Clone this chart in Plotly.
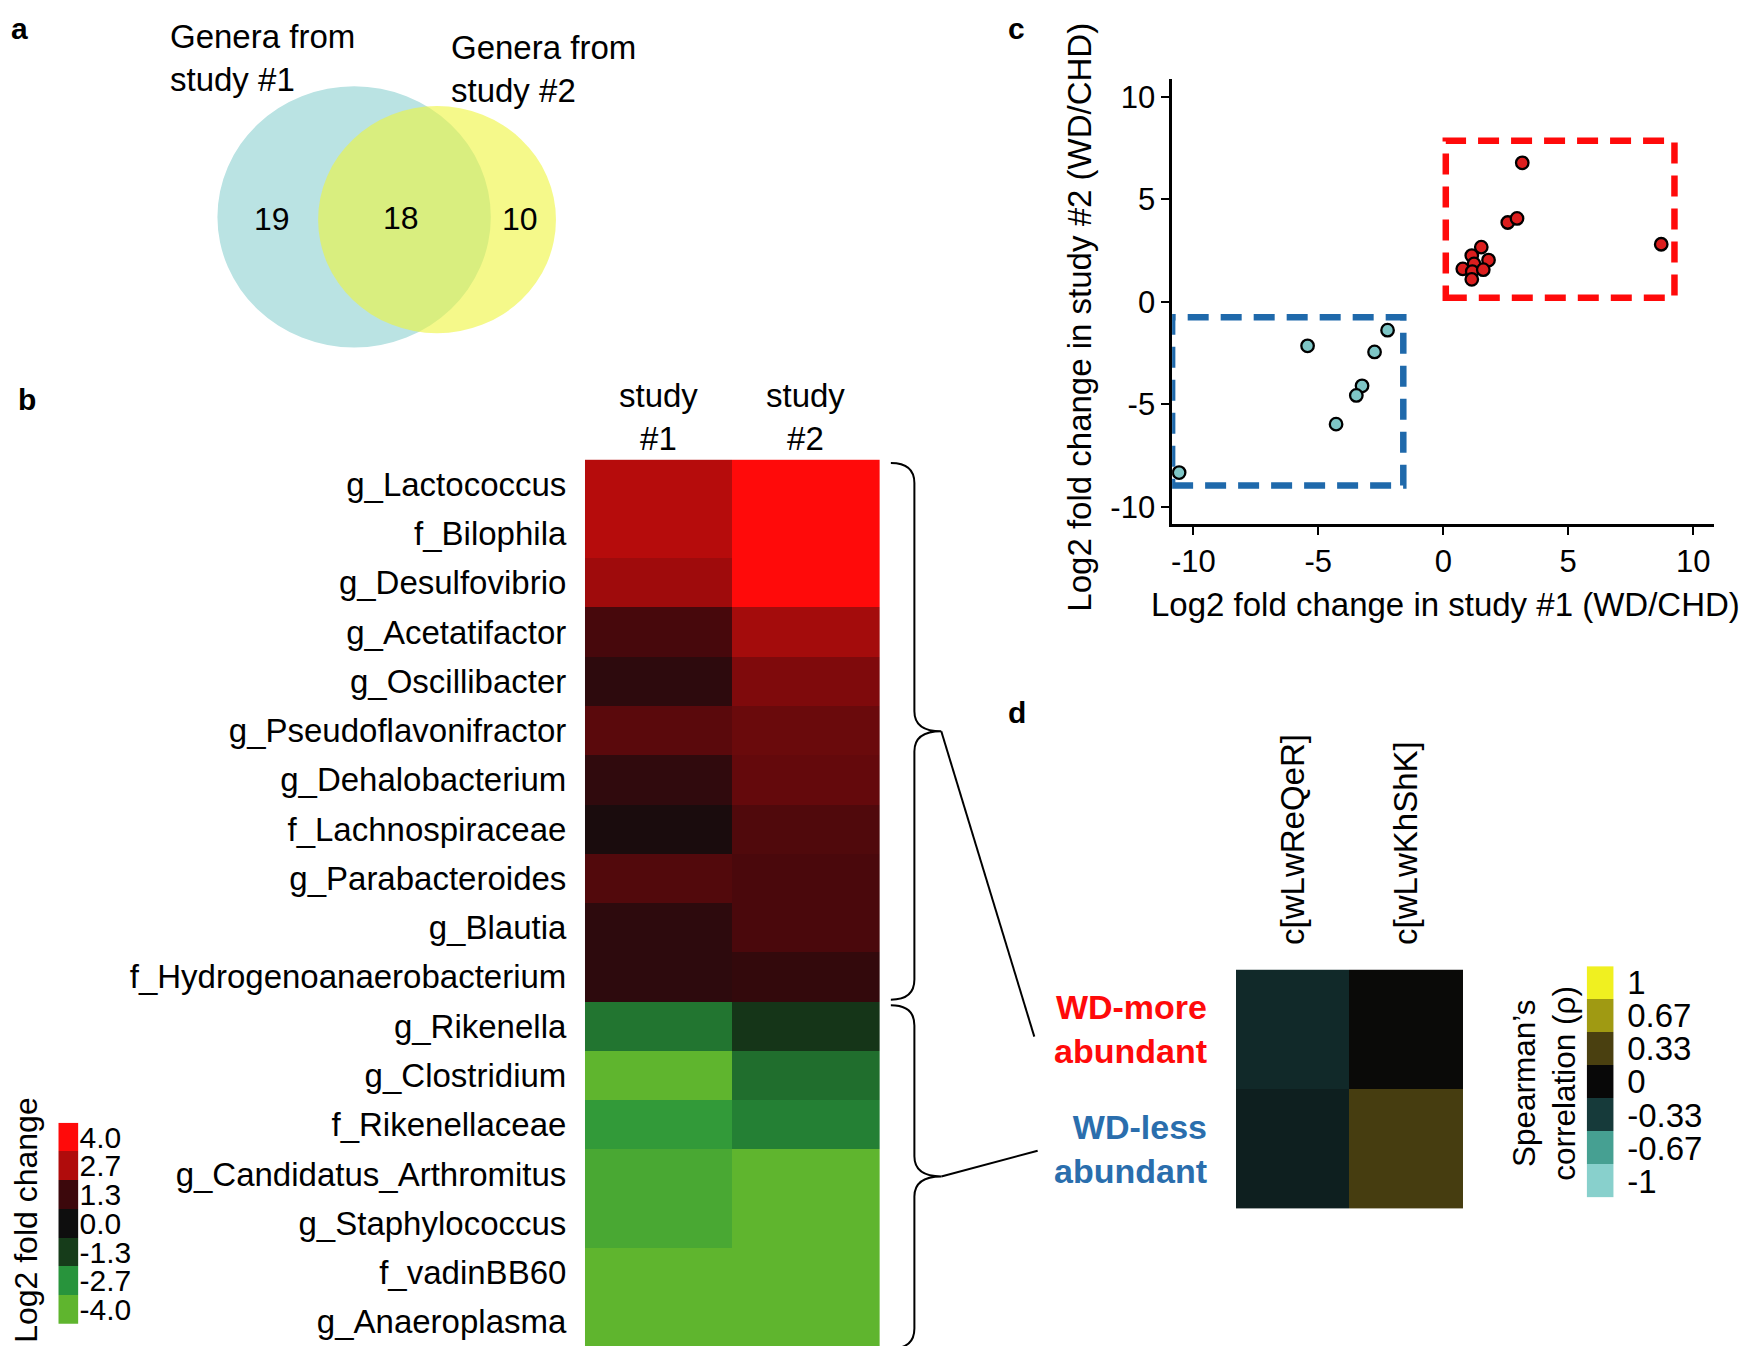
import plotly.graph_objects as go

# ---------------- data ----------------
venn_only1 = 19
venn_both = 18
venn_only2 = 10
venn_titles = ["Genera from<br>study #1", "Genera from<br>study #2"]

genera = ["g_Lactococcus", "f_Bilophila", "g_Desulfovibrio", "g_Acetatifactor",
          "g_Oscillibacter", "g_Pseudoflavonifractor", "g_Dehalobacterium",
          "f_Lachnospiraceae", "g_Parabacteroides", "g_Blautia",
          "f_Hydrogenoanaerobacterium", "g_Rikenella", "g_Clostridium",
          "f_Rikenellaceae", "g_Candidatus_Arthromitus", "g_Staphylococcus",
          "f_vadinBB60", "g_Anaeroplasma"]
studies = ["study<br>#1", "study<br>#2"]
lfc_study1 = [2.8, 2.8, 2.5, 1.43, 0.88, 1.66, 0.96, 0.34, 1.57, 0.88, 0.88,
              -2.21, -4.0, -2.94, -3.49, -3.49, -4.0, -4.0]
lfc_study2 = [4.0, 4.0, 4.0, 2.55, 2.11, 1.86, 1.78, 1.54, 1.47, 1.47, 1.05,
              -1.1, -2.1, -2.38, -4.0, -4.0, -4.0, -4.0]
lfc_legend_vals = [4.0, 2.7, 1.3, 0.0, -1.3, -2.7, -4.0]
lfc_legend_text = ["4.0", "2.7", "1.3", "0.0", "-1.3", "-2.7", "-4.0"]

up_x = [3.16, 2.58, 2.95, 8.72, 1.52, 1.14, 1.81, 1.23, 0.78, 1.16, 1.60, 1.14]
up_y = [6.78, 3.87, 4.07, 2.81, 2.67, 2.26, 2.04, 1.85, 1.61, 1.48, 1.57, 1.10]
down_x = [-2.23, -5.43, -2.75, -3.25, -3.48, -4.29, -10.57]
down_y = [-1.38, -2.14, -2.44, -4.09, -4.56, -5.96, -8.32]
up_box_x = [0.1, 9.25]
up_box_y = [0.2, 7.85]
down_box_x = [-10.85, -1.6]
down_box_y = [-8.95, -0.75]
axis_ticks = [-10, -5, 0, 5, 10]
axis_tick_text = ["-10", "-5", "0", "5", "10"]

peptides = ["c[wLwReQeR]", "c[wLwKhShK]"]
groups = ["WD-more<br>abundant", "WD-less<br>abundant"]
group_colors = ["#ff0a0a", "#2a6ead"]
rho = [[-0.22, 0.01],
       [-0.15, 0.31]]
rho_legend_vals = [1, 0.67, 0.33, 0, -0.33, -0.67, -1]
rho_legend_text = ["1", "0.67", "0.33", "0", "-0.33", "-0.67", "-1"]

# ---------------- layout helpers ----------------
W, H = 1758, 1346
DW, DH = 1568.0, 1200.0   # drawing grid units (same aspect as the page)


def fx(x):
    return x / DW


def fy(y):
    return 1 - y / DH


FONT = "Liberation Sans, Arial, sans-serif"
FS = 33

cs_lfc = [[0.0, "rgb(95,181,46)"], [0.1625, "rgb(40,148,60)"],
          [0.3375, "rgb(22,60,26)"], [0.5, "rgb(14,14,14)"],
          [0.6625, "rgb(60,8,12)"], [0.8375, "rgb(176,12,12)"],
          [1.0, "rgb(255,10,10)"]]
cs_rho = [[0.0, "rgb(136,208,204)"], [0.165, "rgb(70,160,146)"],
          [0.335, "rgb(22,58,58)"], [0.5, "rgb(8,8,8)"],
          [0.665, "rgb(74,64,16)"], [0.835, "rgb(160,154,18)"],
          [1.0, "rgb(240,240,32)"]]

fig = go.Figure()

# ---- panel b heatmap ----
fig.add_trace(go.Heatmap(
    z=[[a, b] for a, b in zip(lfc_study1, lfc_study2)],
    x=[0, 1], y=genera, zmin=-4, zmax=4, colorscale=cs_lfc,
    showscale=False, xaxis="x2", yaxis="y2"))

# ---- panel b legend ----
fig.add_trace(go.Heatmap(
    z=[[v] for v in lfc_legend_vals], x=[0], y=list(range(len(lfc_legend_vals))),
    zmin=-4, zmax=4, colorscale=cs_lfc, showscale=False,
    xaxis="x5", yaxis="y5"))

# ---- panel c scatter ----
fig.add_trace(go.Scatter(
    x=up_x, y=up_y, mode="markers",
    marker=dict(size=12.5, color="#dc1e1e", line=dict(color="black", width=2.3)),
    xaxis="x3", yaxis="y3", showlegend=False))
fig.add_trace(go.Scatter(
    x=down_x, y=down_y, mode="markers",
    marker=dict(size=12.5, color="#7ec6c6", line=dict(color="black", width=2.3)),
    xaxis="x3", yaxis="y3", showlegend=False))

# ---- panel d heatmap ----
fig.add_trace(go.Heatmap(
    z=rho, x=peptides, y=[0, 1], zmin=-1, zmax=1, colorscale=cs_rho,
    showscale=False, xaxis="x4", yaxis="y4"))

# ---- panel d legend ----
fig.add_trace(go.Heatmap(
    z=[[v] for v in rho_legend_vals], x=[0], y=list(range(len(rho_legend_vals))),
    zmin=-1, zmax=1, colorscale=cs_rho, showscale=False,
    xaxis="x7", yaxis="y7"))

hidden = dict(visible=False, showgrid=False, zeroline=False, fixedrange=True)
sc_axis = dict(range=[-10.85, 10.85], tickvals=axis_ticks, ticktext=axis_tick_text,
               ticks="outside", ticklen=8, tickwidth=2, tickcolor="black",
               showline=True, linewidth=2.5, linecolor="black",
               showgrid=False, zeroline=False, tickfont=dict(size=31))

layout = dict(
    width=W, height=H, autosize=False,
    margin=dict(l=0, r=0, t=0, b=0),
    paper_bgcolor="white", plot_bgcolor="rgba(0,0,0,0)",
    font=dict(family=FONT, size=FS, color="black"),
    showlegend=False,
    # overlay drawing grid
    xaxis6=dict(domain=[0, 1], range=[0, DW], anchor="y6", **hidden),
    yaxis6=dict(domain=[0, 1], range=[DH, 0], anchor="x6", **hidden),
    # panel b heatmap
    xaxis2=dict(domain=[fx(514), fx(777)], anchor="y2", range=[-0.5, 1.5],
                showticklabels=False, showgrid=False, zeroline=False, ticks=""),
    yaxis2=dict(domain=[fy(1195), fy(402)], anchor="x2", autorange="reversed",
                showgrid=False, zeroline=False, ticks="outside", ticklen=11,
                tickcolor="rgba(0,0,0,0)", tickfont=dict(size=FS)),
    # panel b legend
    xaxis5=dict(domain=[fx(44), fx(62)], anchor="y5", **hidden),
    yaxis5=dict(domain=[fy(1175), fy(995)], anchor="x5", autorange="reversed",
                side="right", showgrid=False, zeroline=False, ticks="",
                tickvals=list(range(len(lfc_legend_vals))),
                ticktext=lfc_legend_text, tickfont=dict(size=30)),
    # panel c scatter
    xaxis3=dict(domain=[fx(1038), fx(1522)], anchor="y3", **sc_axis),
    yaxis3=dict(domain=[fy(460), fy(62)], anchor="x3", **sc_axis),
    # panel d heatmap
    xaxis4=dict(domain=[fx(1095), fx(1298)], anchor="y4", side="top",
                tickangle=-90, showgrid=False, zeroline=False, ticks="outside",
                ticklen=17, tickcolor="rgba(0,0,0,0)", tickfont=dict(size=FS)),
    yaxis4=dict(domain=[fy(1072), fy(858)], anchor="x4", autorange="reversed",
                showticklabels=False, showgrid=False, zeroline=False, ticks=""),
    # panel d legend
    xaxis7=dict(domain=[fx(1408), fx(1432)], anchor="y7", **hidden),
    yaxis7=dict(domain=[fy(1062), fy(855)], anchor="x7", autorange="reversed",
                side="right", showgrid=False, zeroline=False, ticks="outside",
                ticklen=6, tickcolor="rgba(0,0,0,0)",
                tickvals=list(range(len(rho_legend_vals))),
                ticktext=rho_legend_text, tickfont=dict(size=33)),
)
fig.update_layout(**layout)

shapes = []
ann = []


def A(x, y, text, **kw):
    d = dict(x=x, y=y, xref="x6", yref="y6", text=text, showarrow=False,
             xanchor="center", yanchor="middle",
             font=dict(size=kw.pop("size", FS), color=kw.pop("color", "black"),
                       family=FONT))
    d.update(kw)
    ann.append(d)


# ---- panel letters ----
A(0, 0, "<b>a</b>", size=30, xanchor="left", yanchor="top")
A(890, 0, "<b>c</b>", size=30, xanchor="left", yanchor="top")
A(6, 348, "<b>b</b>", size=30, xanchor="left")
A(890, 628, "<b>d</b>", size=30, xanchor="left")

# ---- panel a: Venn (areas proportional to set sizes) ----
n1 = venn_only1 + venn_both
n2 = venn_only2 + venn_both
k = 122.0 / n1 ** 0.5
r1, r2 = k * n1 ** 0.5, k * n2 ** 0.5
squash = 1.045
c1 = (308, 185)
c2 = (382, 187.5)
shapes.append(dict(type="circle", xref="x6", yref="y6", layer="below",
                   x0=c1[0] - r1, x1=c1[0] + r1,
                   y0=c1[1] - r1 / squash, y1=c1[1] + r1 / squash,
                   fillcolor="rgb(186,227,227)", line=dict(width=0)))
shapes.append(dict(type="circle", xref="x6", yref="y6", layer="below",
                   x0=c2[0] - r2, x1=c2[0] + r2,
                   y0=c2[1] - r2 / squash, y1=c2[1] + r2 / squash,
                   fillcolor="rgba(238,245,60,0.6)", line=dict(width=0)))
A(235, 187, str(venn_only1), size=32)
A(350, 186, str(venn_both), size=32)
A(456, 187, str(venn_only2), size=32)
A(142, 43, venn_titles[0], xanchor="left", align="left")
A(393, 53, venn_titles[1], xanchor="left", align="left")

# ---- panel b: column headers ----
for i, s in enumerate(studies):
    ann.append(dict(x=i, y=fy(364), xref="x2", yref="paper", text=s,
                    showarrow=False, xanchor="center", yanchor="middle",
                    font=dict(size=FS, family=FONT)))


# ---- braces ----
def brace(x0, x1, x2, yt, yb, ym, r=18):
    return ("M %g,%g Q %g,%g %g,%g L %g,%g Q %g,%g %g,%g Q %g,%g %g,%g "
            "L %g,%g Q %g,%g %g,%g" % (
                x0, yt, x1, yt, x1, yt + r,
                x1, ym - r, x1, ym, x2, ym,
                x1, ym, x1, ym + r,
                x1, yb - r, x1, yb, x0, yb))


for (yt, yb, ym) in [(405, 885, 645), (890, 1197, 1043)]:
    shapes.append(dict(type="path", xref="x6", yref="y6",
                       path=brace(787, 808, 832, yt, yb, ym),
                       line=dict(color="black", width=2)))
shapes.append(dict(type="line", xref="x6", yref="y6", x0=832, y0=645, x1=915, y1=918,
                   line=dict(color="black", width=2)))
shapes.append(dict(type="line", xref="x6", yref="y6", x0=832, y0=1043, x1=918, y1=1020,
                   line=dict(color="black", width=2)))

# ---- panel b legend title ----
A(15, 1082, "Log2 fold change", textangle=-90, size=32)

# ---- panel c boxes + titles ----
shapes.append(dict(type="rect", xref="x3", yref="y3",
                   x0=up_box_x[0], x1=up_box_x[1], y0=up_box_y[0], y1=up_box_y[1],
                   line=dict(color="#ff0a0a", width=6.5, dash="21px,12px")))
shapes.append(dict(type="rect", xref="x3", yref="y3",
                   x0=down_box_x[0], x1=down_box_x[1], y0=down_box_y[0], y1=down_box_y[1],
                   line=dict(color="#1f69ab", width=6.5, dash="21px,12px")))
A(1282, 532, "Log2 fold change in study #1 (WD/CHD)")
A(955, 275, "Log2 fold change in study #2 (WD/CHD)", textangle=-90)

# ---- panel d row labels + legend title ----
for i, g in enumerate(groups):
    ann.append(dict(x=fx(1071), y=i, xref="paper", yref="y4", text="<b>%s</b>" % g,
                    showarrow=False, xanchor="right", yanchor="middle", align="right",
                    font=dict(size=34, family=FONT, color=group_colors[i])))
A(1370, 960, "Spearman’s<br>correlation (ρ)", textangle=-90, size=31.5)

fig.update_layout(shapes=shapes, annotations=ann)
fig.write_html("out.html")
